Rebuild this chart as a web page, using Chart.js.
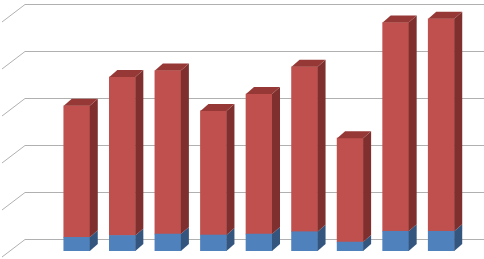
<!DOCTYPE html>
<html>
<head>
<meta charset="utf-8">
<script src="https://cdn.jsdelivr.net/npm/chart.js@4/dist/chart.umd.min.js"></script>
<style>
  html, body { margin: 0; padding: 0; background: #ffffff; }
  #wrap { width: 484px; height: 259px; }
</style>
</head>
<body>
<div id="wrap"><canvas id="c" width="484" height="259"></canvas></div>
<script>
const categories = ["1", "2", "3", "4", "5", "6", "7", "8", "9"];
const seriesBlue = [29, 33, 36, 34, 36, 41, 19, 42, 42];
const seriesRed = [280, 337, 348, 264, 298, 351, 221, 444, 452];
const yTicks = [0, 100, 200, 300, 400, 500];

const DX = 8, DY = 7;          // bar depth offset
const WALL_DX = 22, WALL_BACK = 12, WALL_FRONT = 6;

const gridPlugin = {
  id: 'grid3d',
  beforeDatasetsDraw(chart) {
    const ctx = chart.ctx;
    const y = chart.scales.y;
    ctx.save();
    ctx.lineWidth = 1;
    yTicks.forEach(v => {
      const yf = y.getPixelForValue(v);
      const yb = Math.round(yf - WALL_BACK) + 0.5;
      ctx.strokeStyle = '#b0b0b0';
      ctx.beginPath();
      ctx.moveTo(2, yf + WALL_FRONT);
      ctx.lineTo(2 + WALL_DX + 1, yb);
      ctx.lineTo(chart.width, yb);
      ctx.stroke();
    });
    ctx.restore();
  }
};

function shade(meta, sideColor, topColor, ctx) {
  meta.data.forEach(el => {
    const p = el.getProps(['x', 'y', 'base', 'width'], true);
    const l = p.x - p.width / 2, r = p.x + p.width / 2;
    const top = Math.min(p.y, p.base), bot = Math.max(p.y, p.base);
    ctx.fillStyle = sideColor;
    ctx.beginPath();
    ctx.moveTo(r, top);
    ctx.lineTo(r + DX, top - DY);
    ctx.lineTo(r + DX, bot - DY);
    ctx.lineTo(r, bot);
    ctx.closePath();
    ctx.fill();
    if (topColor) {
      ctx.fillStyle = topColor;
      ctx.beginPath();
      ctx.moveTo(l, top);
      ctx.lineTo(l + DX, top - DY);
      ctx.lineTo(r + DX, top - DY);
      ctx.lineTo(r, top);
      ctx.closePath();
      ctx.fill();
    }
  });
}

const depthPlugin = {
  id: 'depth3d',
  afterDatasetsDraw(chart) {
    const ctx = chart.ctx;
    ctx.save();
    shade(chart.getDatasetMeta(0), '#34567E', null, ctx);
    shade(chart.getDatasetMeta(1), '#7F302E', '#963936', ctx);
    ctx.restore();
  }
};

new Chart(document.getElementById('c'), {
  type: 'bar',
  data: {
    labels: categories,
    datasets: [
      { label: 'Series 1', data: seriesBlue, backgroundColor: '#4F81BD', borderWidth: 0, barThickness: 26 },
      { label: 'Series 2', data: seriesRed, backgroundColor: '#C0504D', borderWidth: 0, barThickness: 26 }
    ]
  },
  options: {
    responsive: false,
    animation: false,
    devicePixelRatio: 1,
    layout: { padding: { left: 54, right: 20, top: 16, bottom: 8 } },
    plugins: { legend: { display: false }, tooltip: { enabled: false } },
    scales: {
      x: { stacked: true, display: false },
      y: { stacked: true, display: false, min: 0, max: 500, ticks: { stepSize: 100 } }
    }
  },
  plugins: [gridPlugin, depthPlugin]
});
</script>
</body>
</html>
